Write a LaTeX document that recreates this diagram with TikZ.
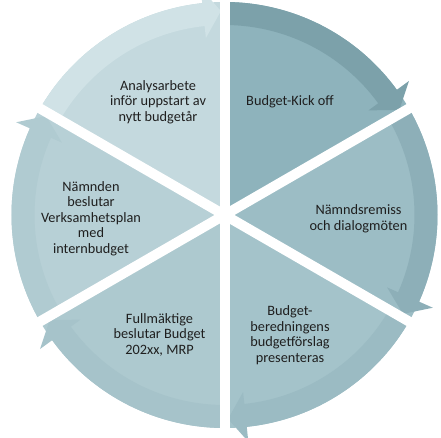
\documentclass[tikz,border=0pt]{standalone}
\usepackage{fontspec}
\setmainfont{Carlito}
\usepackage{tikz}
\definecolor{kickA}{RGB}{142, 179, 188}
\definecolor{kickB}{RGB}{124, 161, 170}
\definecolor{remissA}{RGB}{156, 189, 197}
\definecolor{remissB}{RGB}{141, 175, 184}
\definecolor{beredA}{RGB}{164, 195, 202}
\definecolor{beredB}{RGB}{155, 187, 195}
\definecolor{fullmA}{RGB}{173, 201, 207}
\definecolor{fullmB}{RGB}{166, 195, 202}
\definecolor{namndA}{RGB}{183, 208, 214}
\definecolor{namndB}{RGB}{176, 203, 209}
\definecolor{analysA}{RGB}{196, 217, 222}
\definecolor{analysB}{RGB}{208, 226, 230}
\tikzset{
    lbl/.style={align=center, text=black!88, inner sep=0pt, font=\fontsize{14.3}{15.6}\selectfont},
    gap/.style={draw=white, line width=10pt},
}

\begin{document}
\begin{tikzpicture}[x=1pt, y=1pt]
    \useasboundingbox (-224.5,-223) rectangle (216.5,215);
    \clip (-224.5,-223) rectangle (216.5,215);

    % slices
    \fill[kickA] (0,0) -- (90:213) arc[start angle=90, end angle=30, radius=213pt] -- cycle;
    \fill[remissA] (0,0) -- (30:213) arc[start angle=30, end angle=-30, radius=213pt] -- cycle;
    \fill[beredA] (0,0) -- (-30:213) arc[start angle=-30, end angle=-90, radius=213pt] -- cycle;
    \fill[fullmA] (0,0) -- (-90:213) arc[start angle=-90, end angle=-150, radius=213pt] -- cycle;
    \fill[namndA] (0,0) -- (-150:213) arc[start angle=-150, end angle=-210, radius=213pt] -- cycle;
    \fill[analysA] (0,0) -- (150:213) arc[start angle=150, end angle=90, radius=213pt] -- cycle;

    % circular arrows
    \fill[kickB] (90:213) arc[start angle=90, end angle=36, radius=213pt]
        -- (36:228) -- (31:204) -- (36:178) -- (36:190)
        arc[start angle=36, end angle=90, radius=190pt] -- cycle;
    \fill[remissB] (30:213) arc[start angle=30, end angle=-24, radius=213pt]
        -- (-24:228) -- (-29:204) -- (-24:178) -- (-24:190)
        arc[start angle=-24, end angle=30, radius=190pt] -- cycle;
    \fill[beredB] (-30:213) arc[start angle=-30, end angle=-84, radius=213pt]
        -- (-84:228) -- (-89:204) -- (-84:178) -- (-84:190)
        arc[start angle=-84, end angle=-30, radius=190pt] -- cycle;
    \fill[fullmB] (-90:213) arc[start angle=-90, end angle=-144, radius=213pt]
        -- (-144:228) -- (-149:204) -- (-144:178) -- (-144:190)
        arc[start angle=-144, end angle=-90, radius=190pt] -- cycle;
    \fill[namndB] (-150:213) arc[start angle=-150, end angle=-204, radius=213pt]
        -- (-204:228) -- (-209:204) -- (-204:178) -- (-204:190)
        arc[start angle=-204, end angle=-150, radius=190pt] -- cycle;
    \fill[analysB] (150:213) arc[start angle=150, end angle=96, radius=213pt]
        -- (96:228) -- (91:204) -- (96:178) -- (96:190)
        arc[start angle=96, end angle=150, radius=190pt] -- cycle;

    % gaps
    \draw[gap] (0,0) -- (90:240);
    \draw[gap] (0,0) -- (30:240);
    \draw[gap] (0,0) -- (-30:240);
    \draw[gap] (0,0) -- (-90:240);
    \draw[gap] (0,0) -- (-150:240);
    \draw[gap] (0,0) -- (150:240);

    \node[lbl] (kick) at (65.5,113) {Budget-Kick off};
    \node[lbl] (remiss) at (134,-3.5) {Nämndsremiss\\och dialogmöten};
    \node[lbl] (bered) at (65.5,-120) {Budget-\\beredningens\\budgetförslag\\presenteras};
    \node[lbl] (fullm) at (-65,-119.7) {Fullmäktige\\beslutar Budget\\202xx, MRP};
    \node[lbl] (namnd) at (-133.5,-3.5) {Nämnden\\beslutar\\Verksamhetsplan\\med\\internbudget};
    \node[lbl] (analys) at (-66.5,113) {Analysarbete\\inför uppstart av\\nytt budgetår};
\end{tikzpicture}
\end{document}
